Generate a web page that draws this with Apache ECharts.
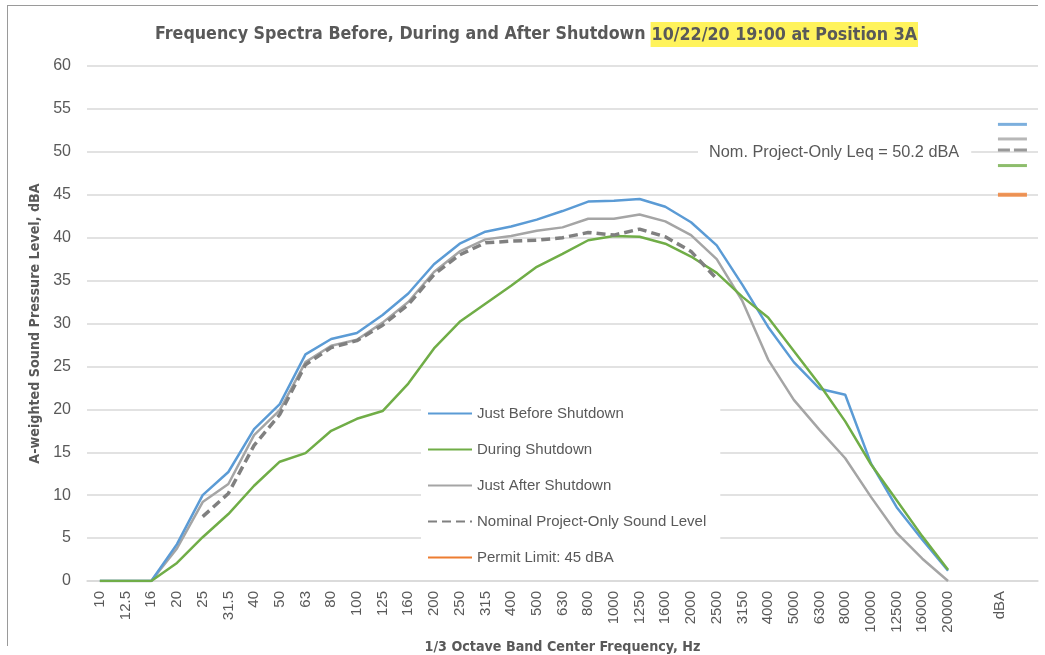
<!DOCTYPE html>
<html>
<head>
<meta charset="utf-8">
<script src="https://cdn.jsdelivr.net/npm/echarts@6/dist/echarts.min.js"></script>
<style>
  html, body { margin: 0; padding: 0; background: #fff; overflow: hidden; width: 1045px; height: 655px; }
  #chart { position: absolute; left: 0; top: 0; width: 1045px; height: 655px; }
  #frame { position: absolute; left: 7px; top: 5px; width: 1030px; height: 640px;
           border-top: 1px solid #9a9a9a; border-left: 1px solid #9a9a9a; pointer-events: none; }
</style>
</head>
<body>
<div id="chart"></div>
<div id="frame"></div>
<script>
// 1/3 octave band centre frequencies, then a gap and the overall dBA column
const frequencies = ['10', '12.5', '16', '20', '25', '31.5', '40', '50', '63', '80', '100', '125', '160',
  '200', '250', '315', '400', '500', '630', '800', '1000', '1250', '1600', '2000', '2500', '3150',
  '4000', '5000', '6300', '8000', '10000', '12500', '16000', '20000'];
const categories = frequencies.concat(['', 'dBA', '']);

// spectra, dBA per band
const justBefore = [0, 0, 0, 4.3, 10.0, 12.7, 17.7, 20.6, 26.4, 28.2, 28.9, 31.0, 33.5, 36.9, 39.3, 40.7,
  41.3, 42.1, 43.1, 44.2, 44.3, 44.5, 43.6, 41.8, 39.1, 34.5, 29.6, 25.5, 22.4, 21.7, 13.7, 8.6, 4.8, 1.2];
const during = [0, 0, 0, 2.1, 5.1, 7.8, 11.1, 13.9, 14.9, 17.5, 18.9, 19.8, 23.0, 27.1, 30.2, 32.3,
  34.4, 36.6, 38.1, 39.7, 40.2, 40.1, 39.3, 37.8, 35.9, 33.1, 30.7, 26.8, 22.9, 18.6, 13.6, 9.4, 5.2, 1.3];
const justAfter = [0, 0, 0, 3.8, 9.2, 11.3, 17.0, 19.9, 25.5, 27.4, 28.1, 30.1, 32.5, 36.0, 38.4, 39.8,
  40.2, 40.8, 41.2, 42.2, 42.2, 42.7, 41.9, 40.3, 37.5, 32.6, 25.8, 21.1, 17.6, 14.3, 9.8, 5.6, 2.6, 0];
const nominal = [null, null, null, null, 7.5, 10.2, 15.8, 19.4, 25.2, 27.2, 28.0, 29.8, 32.2, 35.7, 38.0,
  39.4, 39.6, 39.7, 40.0, 40.6, 40.3, 41.0, 40.1, 38.4, 35.2];

// overall levels plotted in the dBA column
const totalJustBefore = 53.2;
const totalJustAfter = 51.5;
const totalNominal = 50.2;
const totalDuring = 48.4;
const permitLimit = 45;

const C_BLUE = '#5B9BD5', C_GREEN = '#70AD47', C_GRAY = '#A5A5A5', C_DASH = '#808080', C_ORANGE = '#ED7D31';
const TXT = '#595959';
const NARROW = "'Liberation Sans Narrow', 'DejaVu Sans Condensed', 'Liberation Sans', sans-serif";
const PLAIN = "'Liberation Sans', Arial, sans-serif";
const dbaIndex = categories.indexOf('dBA');

const chart = echarts.init(document.getElementById('chart'));

function lineSeries(name, data, color, width, z, type) {
  return {
    name: name,
    type: 'line',
    data: data,
    symbol: 'none',
    z: z,
    lineStyle: { color: color, width: width, type: type || 'solid', cap: 'butt' },
    itemStyle: { color: color },
    emphasis: { disabled: true },
    animation: false
  };
}

function mark(value, color, symbol) {
  return {
    value: [dbaIndex, value],
    symbol: symbol || 'rect',
    symbolSize: [29, 3],
    itemStyle: { color: color }
  };
}

const option = {
  animation: false,
  title: {
    text: '{a|Frequency Spectra Before, During and After Shutdown} {b|10/22/20 19:00 at Position 3A}',
    left: 150,
    top: 17,
    textStyle: {
      rich: {
        a: { fontFamily: NARROW, fontWeight: 'bold', fontSize: 17.7, color: TXT },
        b: { fontFamily: NARROW, fontWeight: 'bold', fontSize: 17.7, color: TXT,
             backgroundColor: '#FFF35C', padding: [4, 1, 3, 1] }
      }
    }
  },
  grid: { left: 87, right: 7, top: 66, bottom: 74, containLabel: false, outerBoundsMode: 'none' },
  legend: {
    orient: 'vertical',
    left: 421,
    top: 400,
    itemWidth: 44,
    itemHeight: 14,
    itemGap: 21,
    padding: [6, 14, 6, 6],
    backgroundColor: '#fff',
    itemStyle: { opacity: 0 },
    textStyle: { color: TXT, fontSize: 15, fontFamily: PLAIN },
    data: ['Just Before Shutdown', 'During Shutdown', 'Just After Shutdown',
           'Nominal Project-Only Sound Level', 'Permit Limit: 45 dBA']
  },
  xAxis: {
    type: 'category',
    data: categories,
    boundaryGap: true,
    name: '1/3 Octave Band Center Frequency, Hz',
    nameLocation: 'middle',
    nameGap: 57,
    nameTextStyle: { fontFamily: NARROW, fontWeight: 'bold', fontSize: 14.2, color: TXT },
    axisLine: { lineStyle: { color: '#d9d9d9', width: 1.5 } },
    axisTick: { show: false },
    axisLabel: { interval: 0, rotate: 90, margin: 10, fontSize: 15, color: TXT, fontFamily: PLAIN },
    splitLine: { show: false }
  },
  yAxis: {
    type: 'value',
    min: 0,
    max: 60,
    interval: 5,
    name: 'A-weighted Sound Pressure Level, dBA',
    nameLocation: 'middle',
    nameGap: 40,
    nameTextStyle: { fontFamily: NARROW, fontWeight: 'bold', fontSize: 14.2, color: TXT },
    axisLine: { show: false },
    axisTick: { show: false },
    axisLabel: { margin: 16, fontSize: 16, color: TXT, fontFamily: PLAIN },
    splitLine: { lineStyle: { color: '#d9d9d9', width: 1.5 } }
  },
  graphic: [{
    type: 'text',
    left: 698,
    top: 143,
    z: 50,
    style: {
      text: 'Nom. Project-Only Leq = 50.2 dBA',
      fill: TXT,
      fontSize: 16.3,
      fontFamily: PLAIN,
      backgroundColor: '#fff',
      padding: [2, 12, 2, 11]
    }
  }],
  series: [
    lineSeries('Just After Shutdown', justAfter, C_GRAY, 2.5, 2),
    lineSeries('Just Before Shutdown', justBefore, C_BLUE, 2.5, 3),
    lineSeries('During Shutdown', during, C_GREEN, 2.5, 4),
    lineSeries('Nominal Project-Only Sound Level', nominal, C_DASH, 3.5, 5, [9, 5]),
    lineSeries('Permit Limit: 45 dBA', [], C_ORANGE, 4.5, 5),
    {
      name: 'dBA totals',
      type: 'scatter',
      z: 60,
      symbolOffset: [13, 0],
      emphasis: { disabled: true },
      data: [
        mark(totalJustBefore, C_BLUE),
        mark(totalJustAfter, C_GRAY),
        mark(totalNominal, C_DASH, 'path://M0,0H12V4H0Z M16,0H29V4H16Z'),
        mark(totalDuring, C_GREEN),
        Object.assign(mark(permitLimit, C_ORANGE), { symbolSize: [29, 4] })
      ]
    }
  ]
};

chart.setOption(option);
window.addEventListener('resize', chart.resize);
</script>
</body>
</html>
